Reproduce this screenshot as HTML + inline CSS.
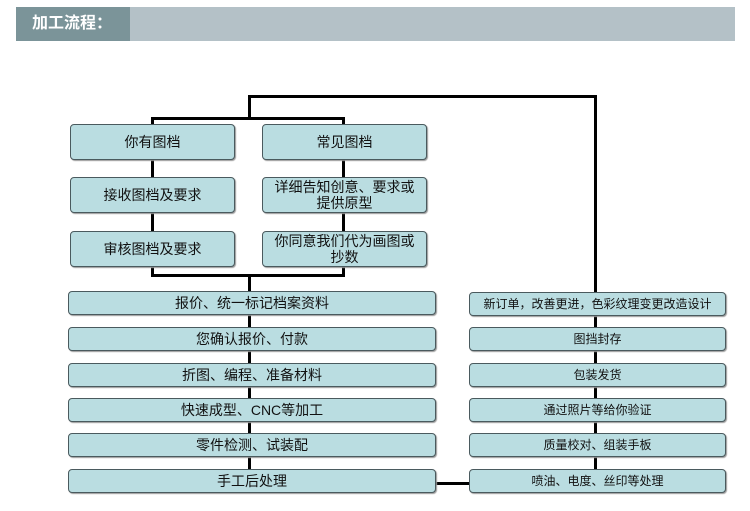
<!DOCTYPE html>
<html><head><meta charset="utf-8"><style>
body{margin:0;width:750px;height:511px;background:#fff;position:relative;overflow:hidden;font-family:"Liberation Sans","Noto Sans CJK SC",sans-serif}
.hd{position:absolute;left:16px;top:7px;width:719px;height:34px;background:#b4c1c7}
.hd span{position:absolute;left:0;top:0;width:114px;height:34px;background:#7b9499;color:#fff;font-weight:bold;font-size:16px;line-height:34px;text-indent:16px}
.b{position:absolute;box-sizing:border-box;background:#badde1;border:1px solid #4a5a5e;border-radius:4px;display:flex;align-items:center;justify-content:center;text-align:center;font-size:14px;color:#111;line-height:16px;box-shadow:1px 1px 1px #999}
.s{font-size:12px}
.l{position:absolute;background:#000}
</style></head><body>
<div class="hd"><span>加工流程：</span></div>

<div class="l" style="left:248px;top:95px;width:348px;height:3px"></div>
<div class="l" style="left:248px;top:95px;width:3px;height:24px"></div>
<div class="l" style="left:594px;top:95px;width:3px;height:198px"></div>
<div class="l" style="left:151px;top:117px;width:194px;height:3px"></div>
<div class="l" style="left:151px;top:117px;width:3px;height:160px"></div>
<div class="l" style="left:342px;top:117px;width:3px;height:160px"></div>
<div class="l" style="left:151px;top:274px;width:194px;height:3px"></div>
<div class="l" style="left:248px;top:274px;width:3px;height:210px"></div>
<div class="l" style="left:594px;top:300px;width:3px;height:180px"></div>
<div class="l" style="left:436px;top:482px;width:34px;height:3px"></div>

<div class="b" style="left:70px;top:124px;width:165px;height:36px">你有图档</div>
<div class="b" style="left:262px;top:124px;width:165px;height:36px">常见图档</div>
<div class="b" style="left:70px;top:177px;width:165px;height:36px">接收图档及要求</div>
<div class="b" style="left:262px;top:177px;width:165px;height:36px">详细告知创意、要求或<br>提供原型</div>
<div class="b" style="left:70px;top:231px;width:165px;height:36px">审核图档及要求</div>
<div class="b" style="left:262px;top:231px;width:165px;height:36px">你同意我们代为画图或<br>抄数</div>

<div class="b" style="left:68px;top:291px;width:368px;height:24px">报价、统一标记档案资料</div>
<div class="b" style="left:68px;top:327px;width:368px;height:24px">您确认报价、付款</div>
<div class="b" style="left:68px;top:363px;width:368px;height:24px">折图、编程、准备材料</div>
<div class="b" style="left:68px;top:398px;width:368px;height:24px">快速成型、CNC等加工</div>
<div class="b" style="left:68px;top:433px;width:368px;height:24px">零件检测、试装配</div>
<div class="b" style="left:68px;top:469px;width:368px;height:24px">手工后处理</div>

<div class="b s" style="left:469px;top:292px;width:257px;height:24px">新订单，改善更进，色彩纹理变更改造设计</div>
<div class="b s" style="left:469px;top:327px;width:257px;height:24px">图挡封存</div>
<div class="b s" style="left:469px;top:363px;width:257px;height:24px">包装发货</div>
<div class="b s" style="left:469px;top:398px;width:257px;height:24px">通过照片等给你验证</div>
<div class="b s" style="left:469px;top:433px;width:257px;height:24px">质量校对、组装手板</div>
<div class="b s" style="left:469px;top:469px;width:257px;height:24px">喷油、电度、丝印等处理</div>
</body></html>
